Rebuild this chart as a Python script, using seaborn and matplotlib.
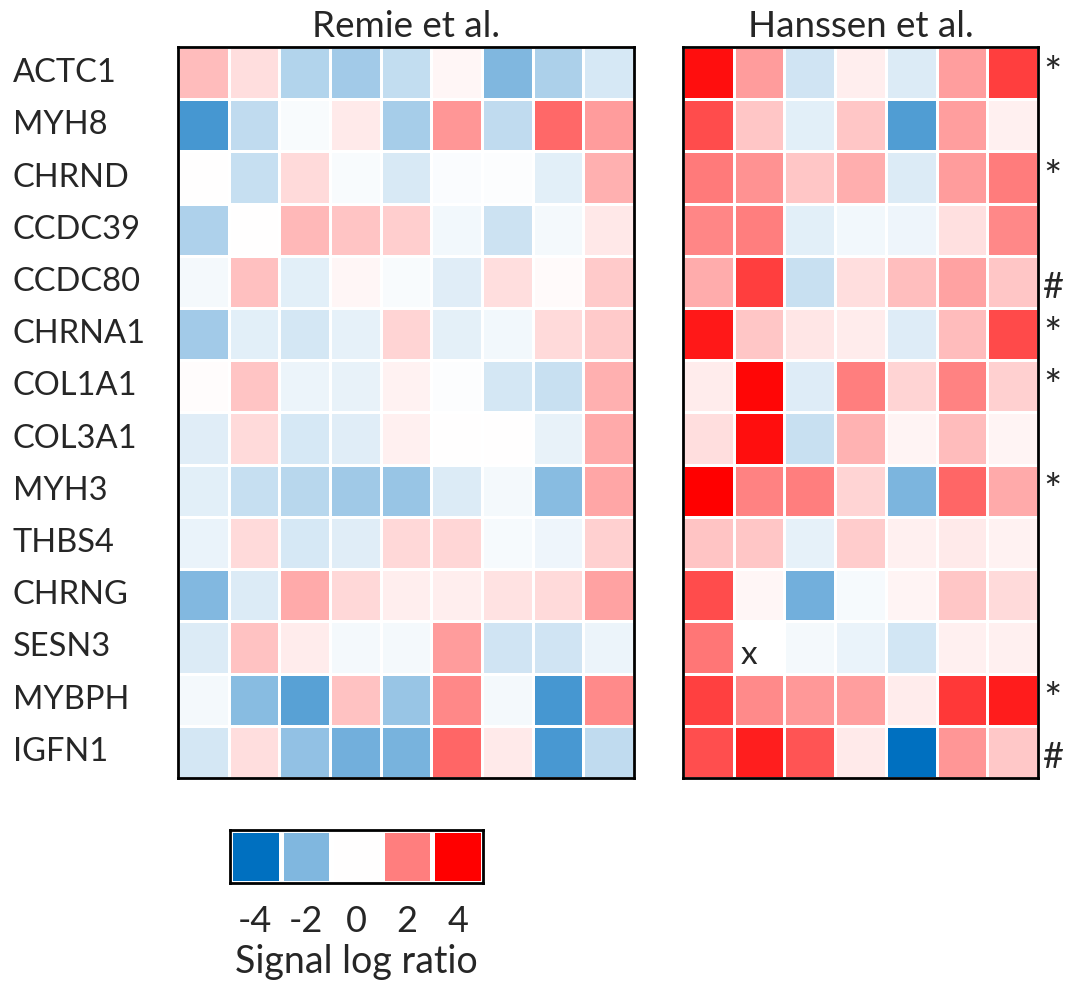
import numpy as np
import pandas as pd
import seaborn as sns
import matplotlib.pyplot as plt
from matplotlib.colors import LinearSegmentedColormap

sns.set_style("white")
plt.rcParams["font.family"] = ["Lato", "DejaVu Sans"]

genes = ["ACTC1", "MYH8", "CHRND", "CCDC39", "CCDC80", "CHRNA1", "COL1A1",
         "COL3A1", "MYH3", "THBS4", "CHRNG", "SESN3", "MYBPH", "IGFN1"]

# Signal log ratios, Remie et al. (9 samples)
remie = [
    [1.06, 0.50, -1.20, -1.45, -0.95, 0.15, -2.00, -1.30, -0.65],
    [-2.90, -1.00, -0.12, 0.33, -1.40, 1.65, -1.00, 2.35, 1.55],
    [0.00, -0.90, 0.58, -0.10, -0.60, -0.08, -0.06, -0.45, 1.23],
    [-1.27, 0.02, 1.10, 0.92, 0.78, -0.20, -0.80, -0.18, 0.36],
    [-0.16, 0.98, -0.44, 0.13, -0.12, -0.47, 0.50, 0.08, 0.83],
    [-1.45, -0.44, -0.67, -0.40, 0.67, -0.42, -0.20, 0.58, 0.83],
    [0.05, 0.92, -0.30, -0.36, 0.20, -0.06, -0.66, -0.87, 1.23],
    [-0.48, 0.58, -0.64, -0.50, 0.22, 0.03, 0.03, -0.36, 1.33],
    [-0.45, -0.90, -1.10, -1.50, -1.60, -0.55, -0.18, -1.85, 1.40],
    [-0.33, 0.58, -0.64, -0.47, 0.62, 0.64, -0.14, -0.28, 0.73],
    [-1.95, -0.55, 1.33, 0.60, 0.27, 0.27, 0.44, 0.58, 1.45],
    [-0.55, 0.94, 0.30, -0.16, -0.16, 1.56, -0.75, -0.75, -0.30],
    [-0.16, -1.85, -2.60, 0.94, -1.60, 1.85, -0.16, -2.90, 1.83],
    [-0.66, 0.50, -1.70, -2.20, -2.10, 2.40, 0.33, -2.85, -1.00],
]

# Signal log ratios, Hanssen et al. (7 samples); nan = not measured
hanssen = [
    [3.77, 1.55, -0.75, 0.25, -0.55, 1.50, 3.00],
    [2.80, 0.90, -0.44, 0.90, -2.75, 1.50, 0.23],
    [2.08, 1.70, 0.90, 1.25, -0.55, 1.55, 2.05],
    [1.90, 2.00, -0.44, -0.20, -0.27, 0.47, 1.87],
    [1.30, 3.00, -0.85, 0.52, 1.00, 1.45, 0.90],
    [3.60, 0.90, 0.40, 0.30, -0.53, 1.05, 2.83],
    [0.30, 3.90, -0.53, 2.00, 0.67, 1.95, 0.73],
    [0.52, 3.77, -0.85, 1.20, 0.16, 1.05, 0.16],
    [4.00, 1.95, 2.03, 0.67, -2.05, 2.40, 1.33],
    [0.92, 0.90, -0.38, 0.80, 0.23, 0.33, 0.19],
    [2.80, 0.15, -2.20, -0.14, 0.17, 0.90, 0.58],
    [2.15, np.nan, -0.16, -0.33, -0.70, 0.23, 0.23],
    [2.98, 1.82, 1.60, 1.50, 0.30, 3.12, 3.56],
    [2.77, 3.50, 2.67, 0.33, -4.00, 1.65, 0.87],
]

# Significance marks shown to the right of the Hanssen panel
marks = ["*", "", "*", "", "#", "*", "*", "", "*", "", "", "", "*", "#"]

legend_levels = [-4, -2, 0, 2, 4]

cmap = LinearSegmentedColormap.from_list(
    "slr", ["#0070C0", "#7FB7DF", "#FFFFFF", "#FF7F7F", "#FF0000"])

W, H = 1065, 985
fig = plt.figure(figsize=(W / 100, H / 100), dpi=100)

def box(x0, y0, x1, y1):
    return [x0 / W, 1 - y1 / H, (x1 - x0) / W, (y1 - y0) / H]

ax_l = fig.add_axes(box(178, 47, 634, 778))
ax_r = fig.add_axes(box(683, 47, 1038, 778))
ax_c = fig.add_axes(box(230, 830, 483, 883))

df_l = pd.DataFrame(remie, index=genes)
df_r = pd.DataFrame(hanssen, index=genes)

sns.heatmap(df_l, ax=ax_l, cmap=cmap, vmin=-4, vmax=4, cbar=False,
            linewidths=2, linecolor="white", xticklabels=False,
            yticklabels=True)
sns.heatmap(df_r, ax=ax_r, cmap=cmap, vmin=-4, vmax=4, cbar=False,
            linewidths=2, linecolor="white", xticklabels=False,
            yticklabels=False)

for ax in (ax_l, ax_r):
    for s in ax.spines.values():
        s.set_visible(True)
        s.set_color("black")
        s.set_linewidth(2)
    ax.set_ylabel("")

ax_l.set_yticklabels(genes, rotation=0, ha="left", fontsize=23.5)
ax_l.tick_params(axis="y", length=0, pad=119)
ax_l.set_title("Remie et al.", fontsize=26.5, pad=7)
ax_r.set_title("Hanssen et al.", fontsize=26.5, pad=7)

# missing value in SESN3
ax_r.text(1.3, 11.5 + 0.31, "x", fontsize=24, ha="center", va="baseline")

for i, m in enumerate(marks):
    if m == "*":
        ax_r.text(7.28, i + 0.5 + 0.26, m, fontsize=31,
                  ha="center", va="baseline", clip_on=False)
    elif m:
        ax_r.text(7.28, i + 0.5 + 0.31, m, fontsize=26,
                  ha="center", va="baseline", clip_on=False)

# discrete legend
df_c = pd.DataFrame([legend_levels])
sns.heatmap(df_c, ax=ax_c, cmap=cmap, vmin=-4, vmax=4, cbar=False,
            linewidths=2.5, linecolor="white",
            xticklabels=[str(v) for v in legend_levels], yticklabels=False)
for s in ax_c.spines.values():
    s.set_visible(True)
    s.set_color("black")
    s.set_linewidth(2)
ax_c.tick_params(axis="x", length=0, pad=16, labelsize=26)
ax_c.set_xlabel("Signal log ratio", fontsize=27, labelpad=4)

fig.savefig("out.png", dpi=100)
